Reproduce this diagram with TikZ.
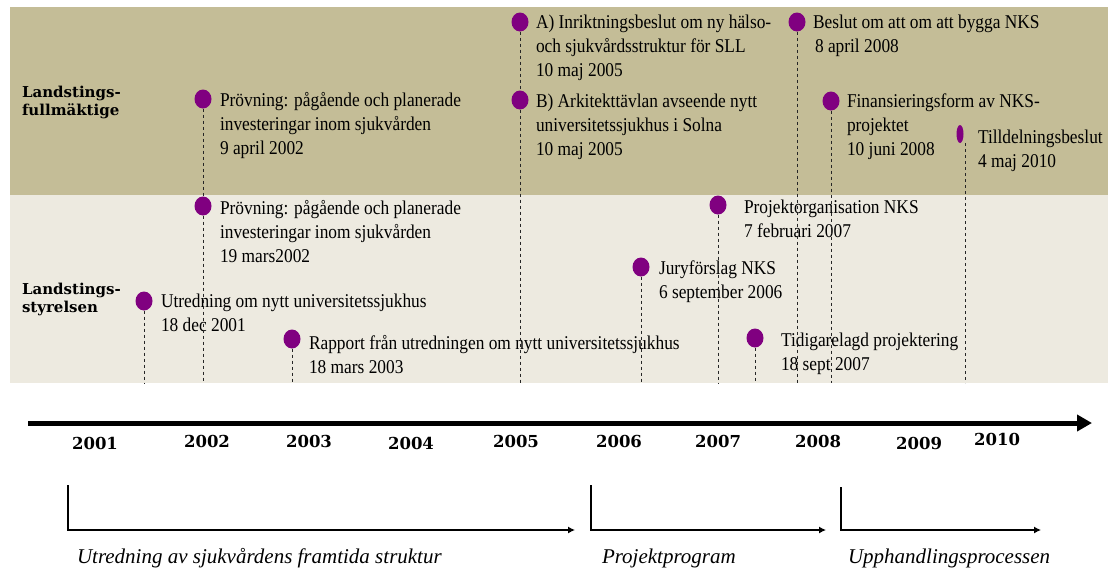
\documentclass[tikz,border=0pt]{standalone}
\usepackage{fontspec}
\setmainfont{Liberation Serif}
\newfontfamily\evfont{Liberation Serif}[FakeStretch=0.89]
\newfontfamily\yrfont{DejaVu Serif}
\usetikzlibrary{shapes,arrows.meta}
\definecolor{fullm}{RGB}{196,189,151}
\definecolor{styr}{RGB}{237,234,224}
\definecolor{evdot}{RGB}{128,0,128}

\begin{document}
\begin{tikzpicture}[x=1pt, y=-1pt, inner sep=0pt, outer sep=0pt,
  ev/.style={ellipse, fill=evdot, minimum width=17pt, minimum height=19pt},
  txt/.style={anchor=north west, align=left, font=\evfont\fontsize{19.5}{24}\selectfont},
  grp/.style={anchor=west, align=left, font=\yrfont\bfseries\fontsize{15}{18}\selectfont},
  year/.style={font=\yrfont\bfseries\fontsize{16.5}{16}\selectfont},
  phase/.style={anchor=west, font=\itshape\fontsize{21}{21}\selectfont},
  guide/.style={dashed, line width=0.9pt, black!85},
  bracket/.style={line width=1.2pt, -{Latex[length=7pt,width=7pt]}}]

\useasboundingbox (0,0) rectangle (1110,571);

% bands
\fill [fullm] (10,7) rectangle (1108,195);
\fill [styr] (10,195) rectangle (1108,383);
\coordinate (base) at (0,383);

\node [grp] at (22,102) (LF) {Landstings-\\fullmäktige};
\node [grp] at (22,299) (LS) {Landstings-\\styrelsen};

% landstingsfullmaktige
\node [ev] at (203,99) (PF) {};
\node [txt] at (220,92) (PFtxt) {Prövning: pågående och planerade\\investeringar inom sjukvården\\9 april 2002};

\node [ev] at (520,22) (A) {};
\node [txt] at (536,15) (Atxt) {A) Inriktningsbeslut om ny hälso-\\och sjukvårdsstruktur för SLL\\10 maj 2005};

\node [ev] at (520,100) (B) {};
\node [txt] at (536,94) (Btxt) {B) Arkitekttävlan avseende nytt\\universitetssjukhus i Solna\\10 maj 2005};

\node [ev] at (797,22) (BN) {};
\node [txt] at (813,15) (BNtxt) {Beslut om att om att bygga NKS\\\hspace{2pt}8 april 2008};

\node [ev] at (831,101) (FIN) {};
\node [txt] at (847,94) (FINtxt) {Finansieringsform av NKS-\\projektet\\10 juni 2008};

\node [ev, minimum width=7pt, minimum height=18pt] at (960,134) (TD) {};
\node [txt] at (978,130) (TDtxt) {Tilldelningsbeslut\\4 maj 2010};

% landstingsstyrelsen
\node [ev] at (203,206) (PS) {};
\node [txt] at (220,200) (PStxt) {Prövning: pågående och planerade\\investeringar inom sjukvården\\19 mars2002};

\node [ev] at (718,205) (PO) {};
\node [txt] at (744,200) (POtxt) {Projektorganisation NKS\\7 februari 2007};

\node [ev] at (641,267) (JF) {};
\node [txt] at (659,261) (JFtxt) {Juryförslag NKS\\6 september 2006};

\node [ev] at (144,301) (UT) {};
\node [txt] at (161,294) (UTtxt) {Utredning om nytt universitetssjukhus\\18 dec 2001};

\node [ev] at (755,338) (TP) {};
\node [txt] at (781,333) (TPtxt) {Tidigarelagd projektering\\18 sept 2007};

\node [ev] at (292,339) (RA) {};
\node [txt] at (309,335) (RAtxt) {Rapport från utredningen om nytt universitetssjukhus\\18 mars 2003};

%\draw [guide] (PF) -- (PF |- base);
\draw [guide] (PF) -- (PS);
\draw [guide] (PS) -- (PS |- base);
\draw [guide] (A) -- (B);
\draw [guide] (B) -- (B |- base);
\draw [guide] (BN) -- (BN |- base);
\draw [guide] (FIN) -- (FIN |- base);
\draw [guide] ([xshift=5pt]TD.south) -- ([xshift=5pt]TD.south |- base);
\draw [guide] (PO) -- (PO |- base);
\draw [guide] (JF) -- (JF |- base);
\draw [guide] (UT) -- (UT |- base);
\draw [guide] (TP) -- (TP |- base);
\draw [guide] (RA) -- (RA |- base);

% time line
\coordinate (tstart) at (28,423);
\coordinate (tend) at (1092,423);
\draw [line width=5pt, -{Triangle[length=15pt,width=16pt]}] (tstart) -- (tend);

\node [year] at (95,443) (Y2001) {2001};
\node [year] at (207,441) (Y2002) {2002};
\node [year] at (309,441) (Y2003) {2003};
\node [year] at (411,443) (Y2004) {2004};
\node [year] at (516,441) (Y2005) {2005};
\node [year] at (619,441) (Y2006) {2006};
\node [year] at (718,441) (Y2007) {2007};
\node [year] at (818,441) (Y2008) {2008};
\node [year] at (919,443) (Y2009) {2009};
\node [year] at (997,439) (Y2010) {2010};

% phases
\coordinate (p1a) at (68,485);
\coordinate (p1b) at (575,530);
\coordinate (p2a) at (591,485);
\coordinate (p2b) at (826,530);
\coordinate (p3a) at (841,487);
\coordinate (p3b) at (1041,530);
\draw [bracket] (p1a) |- (p1b);
\draw [bracket] (p2a) |- (p2b);
\draw [bracket] (p3a) |- (p3b);

\node [phase] at (77,558) (P1) {Utredning av sjukvårdens framtida struktur};
\node [phase] at (602,558) (P2) {Projektprogram};
\node [phase] at (848,558) (P3) {Upphandlingsprocessen};

\end{tikzpicture}
\end{document}
